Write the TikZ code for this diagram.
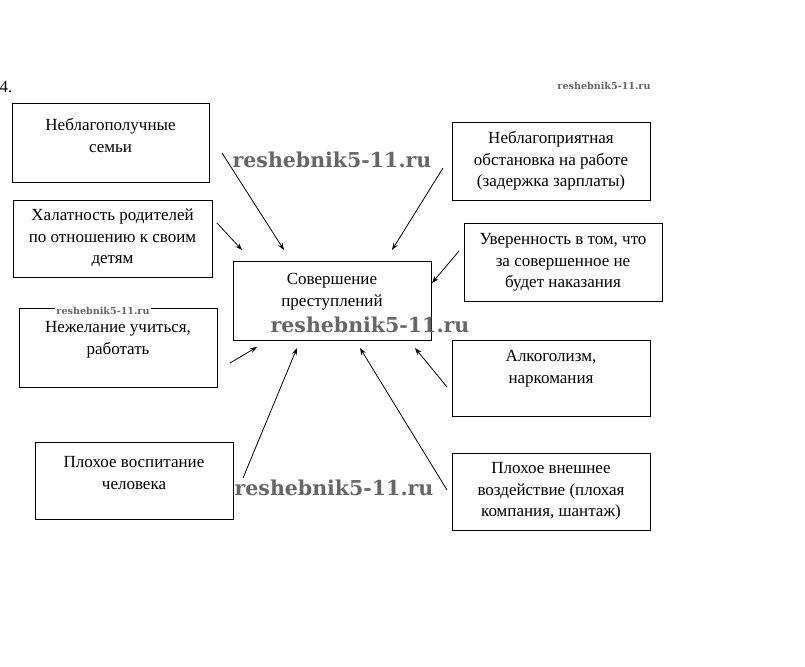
\documentclass[tikz,border=0pt]{standalone}
\usepackage{fontspec}
\setmainfont{Liberation Serif}
\newfontfamily\wmfont{DejaVu Serif}
\usetikzlibrary{arrows.meta}
\begin{document}
\begin{tikzpicture}[x=1pt,y=-1pt,
  box/.style={draw=black, line width=1pt, minimum width=198pt, minimum height=78pt, inner sep=0pt},
  txt/.style={align=center, inner sep=0pt, font=\fontsize{17}{21.5}\selectfont},
  arr/.style={draw=black, line width=0.8pt, -{Stealth[length=7pt,width=5pt]}},
  wmbig/.style={inner sep=0pt, text=black!60, font=\wmfont\bfseries\fontsize{20.5}{20.5}\selectfont},
  wmsmall/.style={inner sep=1pt, fill=white, text=black!60, font=\wmfont\bfseries\fontsize{9.6}{9.6}\selectfont}]
\useasboundingbox (0,0) rectangle (805,666);
\fill[white] (0,0) rectangle (805,666);

\node[anchor=base west, inner sep=0pt, font=\fontsize{17}{20}\selectfont] (num) at (-0.5,93) {4.};

% boxes
\node[box, minimum width=197pt, minimum height=78pt] (b1) at (110.5,143) {};
\node[box, minimum width=199pt, minimum height=77pt] (b2) at (112.5,238.5) {};
\node[box, minimum width=198pt, minimum height=79pt] (b3) at (118,347.5) {};
\node[box, minimum width=198pt, minimum height=77pt] (b4) at (134,480.5) {};
\node[box, minimum width=198pt, minimum height=79pt] (b5) at (332,300.5) {};
\node[box, minimum width=198pt, minimum height=77pt] (b6) at (551,161.5) {};
\node[box, minimum width=198pt, minimum height=78pt] (b7) at (563,262) {};
\node[box, minimum width=198pt, minimum height=76pt] (b8) at (551,378) {};
\node[box, minimum width=198pt, minimum height=77pt] (b9) at (551,491.5) {};

% texts
\node[txt] (t1) at (110.5,135.5) {Неблагополучные\\семьи};
\node[txt] (t2) at (112.5,238) {Халатность родителей\\по отношению к своим\\детям};
\node[txt] (t3) at (118,339.5) {Нежелание учиться,\\работать};
\node[txt] (t4) at (134,473) {Плохое воспитание\\человека};
\node[txt] (t5) at (332,291.5) {Совершение\\преступлений};
\node[txt] (t6) at (551,161) {Неблагоприятная\\обстановка на работе\\(задержка зарплаты)};
\node[txt] (t7) at (563,262.5) {Уверенность в том, что\\за совершенное не\\будет наказания};
\node[txt] (t8) at (551,368.5) {Алкоголизм,\\наркомания};
\node[txt] (t9) at (551,491.5) {Плохое внешнее\\воздействие (плохая\\компания, шантаж)};

% arrow end points
\coordinate (s1) at (222,153); \coordinate (e1) at (284,250);
\coordinate (s2) at (217,223); \coordinate (e2) at (242,250);
\coordinate (s3) at (443,168); \coordinate (e3) at (392,250);
\coordinate (s4) at (459,251); \coordinate (e4) at (432,283);
\coordinate (s5) at (230,363); \coordinate (e5) at (257,347);
\coordinate (s6) at (243,478); \coordinate (e6) at (297,348);
\coordinate (s7) at (447,490); \coordinate (e7) at (360,348);
\coordinate (s8) at (447,387); \coordinate (e8) at (415,348);

\draw[arr] (s1) -- (e1);
\draw[arr] (s2) -- (e2);
\draw[arr] (s3) -- (e3);
\draw[arr] (s4) -- (e4);
\draw[arr] (s5) -- (e5);
\draw[arr] (s6) -- (e6);
\draw[arr] (s7) -- (e7);
\draw[arr] (s8) -- (e8);

% watermarks
\node[wmsmall] (w1) at (604,86) {reshebnik5-11.ru};
\node[wmsmall] (w2) at (103,311) {reshebnik5-11.ru};
\node[wmbig] (w3) at (332,160) {reshebnik5-11.ru};
\node[wmbig] (w4) at (370,325) {reshebnik5-11.ru};
\node[wmbig] (w5) at (334,488) {reshebnik5-11.ru};
\end{tikzpicture}
\end{document}
